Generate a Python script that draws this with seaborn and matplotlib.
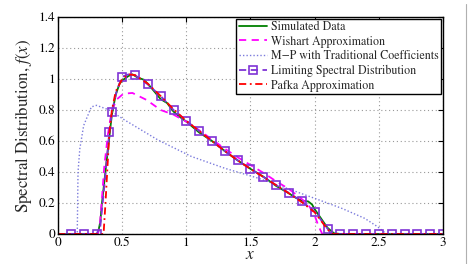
import numpy as np
import pandas as pd
import matplotlib
matplotlib.use("Agg")
import matplotlib.pyplot as plt
import seaborn as sns
from matplotlib.lines import Line2D

# ---- data ----
sim_x = [0, 0.31, 0.33, 0.34, 0.36, 0.38, 0.39, 0.41, 0.42, 0.45, 0.48, 0.5, 0.55, 0.58,
         0.62, 0.67, 0.72, 0.77, 0.8, 0.85, 0.9, 0.95, 1.0, 1.1, 1.2, 1.3, 1.4, 1.5, 1.6,
         1.7, 1.8, 1.85, 1.9, 1.95, 1.98, 2.0, 2.05, 2.1, 2.15, 2.2, 3.0]
sim_y = [0, 0, 0.08, 0.18, 0.33, 0.48, 0.55, 0.70, 0.77, 0.90, 0.97, 0.99, 1.02, 1.03,
         1.01, 0.995, 0.95, 0.90, 0.87, 0.845, 0.79, 0.755, 0.725, 0.655, 0.60, 0.535, 0.475,
         0.42, 0.37, 0.31, 0.262, 0.235, 0.215, 0.21, 0.19, 0.16, 0.10, 0.04, 0.005, 0, 0]

wis_x = [0, 0.31, 0.325, 0.34, 0.36, 0.39, 0.42, 0.46, 0.51, 0.58, 0.69, 0.8, 0.9, 1.0,
         1.1, 1.2, 1.3, 1.4, 1.5, 1.6, 1.7, 1.8, 1.9, 1.95, 2.0, 2.03, 2.06, 3.0]
wis_y = [0, 0, 0.05, 0.2, 0.43, 0.65, 0.80, 0.87, 0.905, 0.91, 0.865, 0.80, 0.77, 0.725,
         0.67, 0.61, 0.55, 0.495, 0.445, 0.395, 0.34, 0.29, 0.225, 0.19, 0.12, 0.05, 0, 0]

mp_x = [0, 0.15, 0.156, 0.17, 0.2, 0.26, 0.3, 0.4, 0.52, 0.78, 1.04, 1.3, 1.56, 1.82,
        2.0, 2.21, 2.39, 2.49, 2.56, 3.0]
mp_y = [0, 0, 0.40, 0.55, 0.70, 0.82, 0.83, 0.80, 0.735, 0.606, 0.50, 0.424, 0.36, 0.284,
        0.23, 0.166, 0.101, 0.047, 0, 0]

lsd_x = [0, 0.1, 0.2, 0.3, 0.33, 0.36, 0.4, 0.42, 0.46, 0.5, 0.55, 0.6, 0.7, 0.8, 0.9,
         1.0, 1.1, 1.2, 1.3, 1.4, 1.5, 1.6, 1.7, 1.8, 1.9, 2.0, 2.1, 2.13, 2.2, 2.3, 2.4,
         2.5, 2.6, 2.7, 2.8, 2.9, 3.0]
lsd_y = [0, 0, 0, 0, 0.05, 0.30, 0.66, 0.79, 0.93, 1.015, 1.03, 1.025, 0.965, 0.89, 0.80,
         0.73, 0.665, 0.598, 0.535, 0.475, 0.42, 0.368, 0.315, 0.265, 0.21, 0.145, 0.035,
         0, 0, 0, 0, 0, 0, 0, 0, 0, 0]
lsd_marks = [1, 2, 3, 6, 7, 9, 11, 12, 13, 14, 15, 16, 17, 18, 19, 20, 21, 22, 23, 24,
             25, 26, 28, 29, 30, 31, 32, 33, 34, 35, 36]

paf_x = [0, 0.355, 0.37, 0.39, 0.4, 0.42, 0.45, 0.5, 0.55, 0.6, 0.7, 0.8, 0.9, 1.0, 1.1,
         1.2, 1.3, 1.4, 1.5, 1.6, 1.7, 1.8, 1.9, 2.0, 2.05, 2.1, 2.14, 3.0]
paf_y = [0, 0, 0.2, 0.5, 0.65, 0.80, 0.92, 1.0, 1.03, 1.025, 0.97, 0.89, 0.805, 0.73,
         0.665, 0.60, 0.535, 0.475, 0.42, 0.368, 0.315, 0.262, 0.205, 0.14, 0.085, 0.03,
         0, 0]

labels = ["Simulated Data", "Wishart Approximation", "M\u2212P with Traditional Coefficients",
          "Limiting Spectral Distribution", "Pafka Approximation"]
x_ticks = [0, 0.5, 1, 1.5, 2, 2.5, 3]
x_tick_labels = ["0", "0.5", "1", "1.5", "2", "2.5", "3"]
y_ticks = [0, 0.2, 0.4, 0.6, 0.8, 1.0, 1.2, 1.4]
y_tick_labels = ["0", "0.2", "0.4", "0.6", "0.8", "1", "1.2", "1.4"]

# ---- style ----
sns.set_style("white")
plt.rcParams["font.family"] = ["STIXGeneral", "DejaVu Serif"]
plt.rcParams["mathtext.fontset"] = "stix"

fig = plt.figure(figsize=(4.72, 2.64), dpi=100)
ax = fig.add_axes([58 / 472, 30 / 264, 385 / 472, 217 / 264])

def draw(xs, ys, **kw):
    df = pd.DataFrame({"x": xs, "y": ys})
    sns.lineplot(data=df, x="x", y="y", ax=ax, estimator=None, sort=False, **kw)

draw(sim_x, sim_y, color="#008000", linewidth=1.3, label=labels[0])
draw(wis_x, wis_y, color="#ff00ff", linewidth=1.3, linestyle=(0, (4, 3)), label=labels[1])
draw(mp_x, mp_y, color="#7b7bdc", linewidth=1.0, linestyle=(0, (1, 1.5)), label=labels[2])
draw(lsd_x, lsd_y, color="#7f33d6", linewidth=1.3, linestyle=(0, (4, 2.5)), marker="s",
     markersize=5.5, markerfacecolor="none", markeredgecolor="#7f33d6",
     markeredgewidth=1.2, markevery=lsd_marks, label=labels[3])
draw(paf_x, paf_y, color="#ff0000", linewidth=1.3, linestyle=(0, (4, 2, 1, 2)), label=labels[4])

ax.set_xlim(0, 3)
ax.set_ylim(0, 1.4)
ax.set_xticks(x_ticks)
ax.set_xticklabels(x_tick_labels)
ax.set_yticks(y_ticks)
ax.set_yticklabels(y_tick_labels)
ax.tick_params(direction="in", length=3.5, width=0.8, top=True, right=True,
               labelsize=9.5, pad=2, colors="black")
ax.grid(True, linestyle=(0, (1, 2.5)), color="#999999", linewidth=0.8)
for s in ax.spines.values():
    s.set_visible(True)
    s.set_color("black")
    s.set_linewidth(1.0)

ax.set_xlabel("$x$", fontsize=12.5, labelpad=-1)
ax.set_ylabel("Spectral Distribution, $f(x)$", fontsize=12.2, labelpad=3)

leg = ax.legend(loc="upper right", fontsize=8.6, frameon=True, fancybox=False,
                edgecolor="black", framealpha=1, borderpad=0.2, labelspacing=0.22,
                handlelength=2.4, handletextpad=0.3, borderaxespad=0.15)
leg.get_frame().set_linewidth(1.0)

fig.add_artist(Line2D([465.5 / 472, 465.5 / 472], [0, 0.985], transform=fig.transFigure,
                      color="#b0b0b0", linewidth=0.8))

fig.savefig("out.png", dpi=100)
